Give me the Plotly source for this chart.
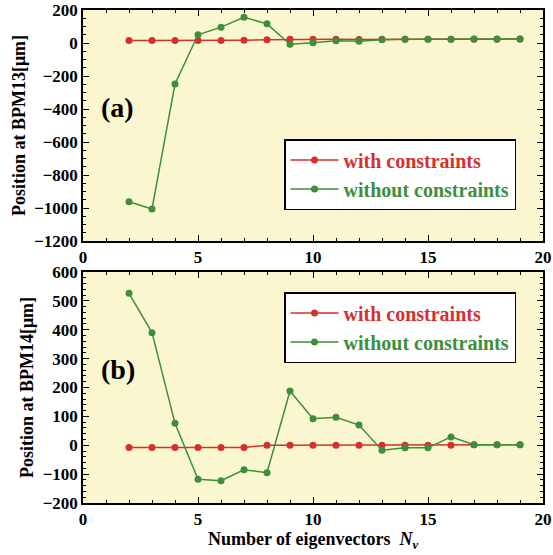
import plotly.graph_objects as go

nv = list(range(2, 20))
bpm13_with = [15, 15, 15, 15, 15, 17, 20, 22, 22, 22, 21, 23, 23, 23, 23, 23, 23, 25]
bpm13_without = [-962, -1006, -248, 50, 96, 156, 116, -8, 2, 14, 10, 20, 22, 22, 22, 24, 24, 24]
bpm14_with = [-8, -8, -8, -8, -8, -8, 0, 0, 0, 0, 0, 0, 0, 0, 0, 2, 2, 2]
bpm14_without = [526, 390, 76, -118, -123, -85, -95, 188, 92, 97, 70, -17, -9, -9, 29, 2, 2, 2]

RED = "#D7302B"
GREEN = "#3E8E3A"
BG = "#FAF7D0"
FONT = "Liberation Serif"

fig = go.Figure()

def add(x, y, color, name, xa, ya, leg):
    fig.add_trace(go.Scatter(
        x=x, y=y, mode="lines+markers", xaxis=xa, yaxis=ya, legend=leg,
        name=f"<b><span style='color:{color}'>{name}</span></b>",
        line=dict(color=color, width=1.5), marker=dict(color=color, size=7)))

add(nv, bpm13_with, RED, "with constraints", "x", "y", "legend")
add(nv, bpm13_without, GREEN, "without constraints", "x", "y", "legend")
add(nv, bpm14_with, RED, "with constraints", "x2", "y2", "legend2")
add(nv, bpm14_without, GREEN, "without constraints", "x2", "y2", "legend2")

tickfont = dict(family=FONT, size=17, color="black", weight="bold")
common = dict(showgrid=False, zeroline=False, showline=True, linecolor="black", linewidth=1.5,
              mirror="ticks", ticks="inside", ticklen=6, tickcolor="black", tickwidth=1,
              tickfont=tickfont, automargin=False)

top_dom = [(503 - 241) / 493, 1.0]
bot_dom = [0.0, (503 - 272) / 493]
titlefont = dict(family=FONT, size=18, weight="bold", color="black")
legfont = dict(family=FONT, size=20, weight="bold")

fig.update_layout(
    width=553, height=555,
    margin=dict(l=83, r=10, t=10, b=52),
    paper_bgcolor="white", plot_bgcolor=BG,
    font=dict(family=FONT, color="black"),
    xaxis=dict(range=[0, 20], dtick=5, anchor="y", domain=[0, 1], ticklabelstandoff=0,
               minor=dict(dtick=1, ticklen=3, ticks="inside", tickcolor="black"), **common),
    yaxis=dict(range=[-1200, 200], dtick=200, domain=top_dom, anchor="x",
               minor=dict(dtick=50, ticklen=3, ticks="inside", tickcolor="black"),
               title=dict(text="Position at BPM13[μm]", font=titlefont, standoff=4),
               **common),
    xaxis2=dict(range=[0, 20], dtick=5, anchor="y2", domain=[0, 1], ticklabelstandoff=0,
                minor=dict(dtick=1, ticklen=3, ticks="inside", tickcolor="black"),
                title=dict(text="Number of eigenvectors  <i>N<sub>v</sub></i>", font=titlefont, standoff=4),
                **common),
    yaxis2=dict(range=[-200, 600], dtick=100, domain=bot_dom, anchor="x2",
                minor=dict(dtick=20, ticklen=3, ticks="inside", tickcolor="black"),
                title=dict(text="Position at BPM14[μm]", font=titlefont, standoff=4),
                **common),
    legend=dict(x=(284 - 83) / 460, y=(503 - 139) / 493, xanchor="left", yanchor="top",
                bgcolor="white", bordercolor="black", borderwidth=1.5,
                font=legfont, tracegroupgap=0, itemwidth=48),
    legend2=dict(x=(284 - 83) / 460, y=(503 - 292) / 493, xanchor="left", yanchor="top",
                 bgcolor="white", bordercolor="black", borderwidth=1.5,
                 font=legfont, tracegroupgap=0, itemwidth=48),
    annotations=[
        dict(text="<b>(a)</b>", xref="x domain", yref="y domain", x=0.035, y=0.576, xanchor="left", yanchor="middle",
             showarrow=False, font=dict(family=FONT, size=28, color="black")),
        dict(text="<b>(b)</b>", xref="x2 domain", yref="y2 domain", x=0.035, y=0.576, xanchor="left", yanchor="middle",
             showarrow=False, font=dict(family=FONT, size=28, color="black")),
    ],
)

fig.write_html("out.html", post_script="document.body.style.margin='0';",
               config={"displayModeBar": False})
